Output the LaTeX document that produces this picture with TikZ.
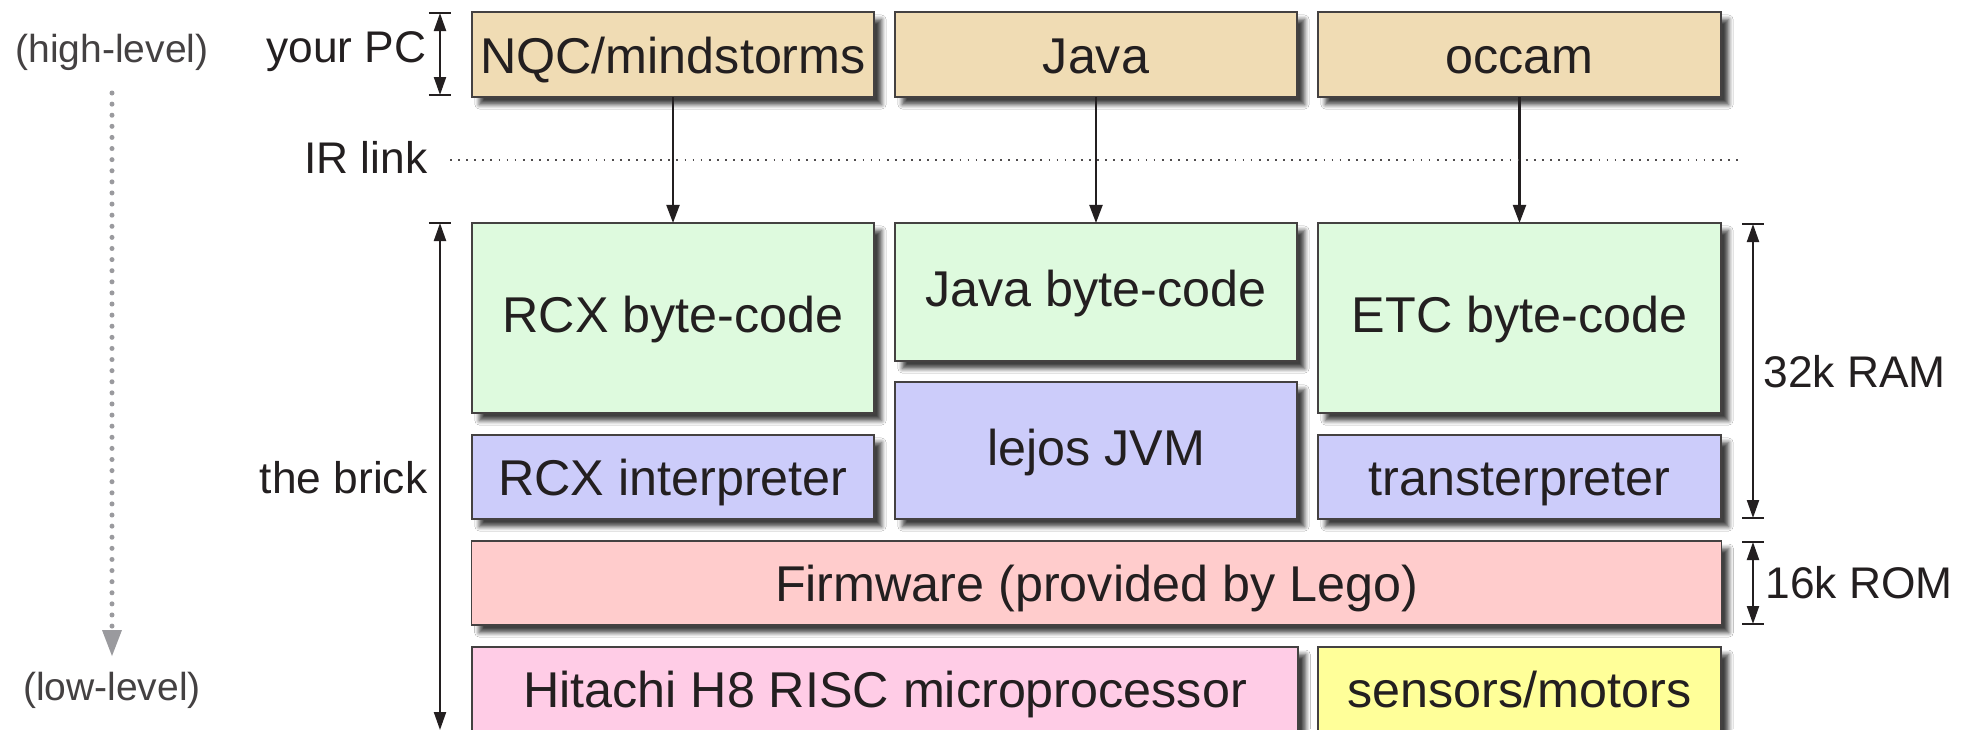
\documentclass[tikz,border=0pt]{standalone}
\usepackage{fontspec}
\setmainfont{Liberation Sans}
\usetikzlibrary{arrows.meta,shadows,shadows.blur}
\definecolor{ink}{HTML}{231F20}
\definecolor{tanbox}{HTML}{F0DCB4}
\definecolor{greenbox}{HTML}{DEFADE}
\definecolor{bluebox}{HTML}{CCCCFA}
\definecolor{redbox}{HTML}{FFCCCC}
\definecolor{pinkbox}{HTML}{FFCCE6}
\definecolor{yellowbox}{HTML}{FFFF99}
\definecolor{levelgray}{HTML}{9A9A9E}
\tikzset{
  layer/.style={draw=ink!85, line width=0.45pt, inner sep=0pt, outer sep=0pt,
    text=ink, font=\fontsize{14.3}{17}\selectfont, text height=0.37cm, text depth=0cm,
    blur shadow={shadow xshift=0.075cm, shadow yshift=-0.075cm, shadow blur radius=0.045cm,
      shadow opacity=75, shadow blur steps=6}},
  tall/.style={text depth=0.075cm},
  lab/.style={text=ink, font=\fontsize{12.6}{15}\selectfont, inner sep=0pt},
  lvl/.style={text=ink!85, font=\fontsize{11.1}{13}\selectfont, inner sep=0pt},
  flow/.style={draw=ink, line width=0.6pt, -{Triangle[length=0.18cm,width=0.13cm]}},
  dimline/.style={draw=ink, line width=0.6pt, {Triangle[length=0.18cm,width=0.12cm]}-{Triangle[length=0.18cm,width=0.12cm]}},
  dimbar/.style={draw=ink, line width=0.6pt},
}
\begin{document}
\begin{tikzpicture}[x=0.01cm,y=-0.01cm]
\useasboundingbox (0,0) rectangle (1968,729);
\clip (0,0) rectangle (1968,729);
\fill[white] (0,0) rectangle (1968,729);

% top row
\node[layer, fill=tanbox, minimum width=4.02cm, minimum height=0.85cm] (nqc) at (673,54.5) {NQC/mindstorms};
\node[layer, fill=tanbox, minimum width=4.02cm, minimum height=0.85cm] (java) at (1096,54.5) {Java};
\node[layer, fill=tanbox, minimum width=4.03cm, minimum height=0.85cm] (occam) at (1519.5,54.5) {occam};

% byte-code row
\node[layer, tall, fill=greenbox, minimum width=4.02cm, minimum height=1.90cm] (rcxbc) at (673,318) {RCX byte-code};
\node[layer, tall, fill=greenbox, minimum width=4.02cm, minimum height=1.38cm] (javabc) at (1096,292) {Java byte-code};
\node[layer, tall, fill=greenbox, minimum width=4.03cm, minimum height=1.90cm] (etcbc) at (1519.5,318) {ETC byte-code};

% interpreters
\node[layer, fill=bluebox, minimum width=4.02cm, minimum height=0.84cm] (rcxint) at (673,477) {RCX interpreter};
\node[layer, tall, fill=bluebox, minimum width=4.02cm, minimum height=1.37cm] (lejos) at (1096,450.5) {lejos JVM};
\node[layer, fill=bluebox, minimum width=4.03cm, minimum height=0.84cm] (trans) at (1519.5,477) {transterpreter};

% firmware and hardware
\node[layer, fill=redbox, minimum width=12.49cm, minimum height=0.84cm] (firm) at (1096.5,583) {Firmware (provided by Lego)};
\node[layer, fill=pinkbox, minimum width=8.26cm, minimum height=0.84cm] (hitachi) at (885,689) {Hitachi H8 RISC microprocessor};
\node[layer, fill=yellowbox, minimum width=4.03cm, minimum height=0.84cm] (sensors) at (1519.5,689) {sensors/motors};

% downloads
\draw[flow] (nqc.south) -- (rcxbc.north);
\draw[flow] (java.south) -- (javabc.north);
\draw[flow] (occam.south) -- (etcbc.north);

% IR link line
\coordinate (irA) at (450,160);
\coordinate (irB) at (1741,160);
\draw[draw=ink!80, line width=0.35pt, dash pattern=on 0.5pt off 1.8pt] (irA) -- (irB);

% left labels
\node[lab, anchor=base east] (pc) at (427,62) {your PC};
\node[lab, anchor=base east] (ir) at (428,173) {IR link};
\node[lab, anchor=base east] (brick) at (428,493) {the brick};
\node[lvl, anchor=base] (high) at (112,62) {(high-level)};
\node[lvl, anchor=base] (low) at (112,700) {(low-level)};

% level arrow
\coordinate (lvA) at (112,93);
\coordinate (lvB) at (112,628);
\coordinate (lvT) at (112,656);
\draw[levelgray, line width=0.05cm, line cap=round, dash pattern=on 0pt off 0.111cm] (lvA) -- (lvB);
\fill[levelgray] (102,630) -- (122,630) -- (lvT) -- cycle;

% your PC dimension
\coordinate (pcT) at (440,13);
\coordinate (pcB) at (440,95);
\draw[dimline] (pcT) -- (pcB);
\draw[dimbar] ([xshift=-0.11cm]pcT) -- ([xshift=0.11cm]pcT);
\draw[dimbar] ([xshift=-0.11cm]pcB) -- ([xshift=0.11cm]pcB);

% the brick dimension
\coordinate (brT) at (440,223);
\coordinate (brB) at (440,730);
\draw[dimline] (brT) -- (brB);
\draw[dimbar] ([xshift=-0.11cm]brT) -- ([xshift=0.11cm]brT);

% RAM dimension
\coordinate (ramT) at (1753,224);
\coordinate (ramB) at (1753,518);
\draw[dimline] (ramT) -- (ramB);
\draw[dimbar] ([xshift=-0.11cm]ramT) -- ([xshift=0.11cm]ramT);
\draw[dimbar] ([xshift=-0.11cm]ramB) -- ([xshift=0.11cm]ramB);
\node[lab, anchor=base west] (ram) at (1763,387) {32k RAM};

% ROM dimension
\coordinate (romT) at (1753,542);
\coordinate (romB) at (1753,624);
\draw[dimline] (romT) -- (romB);
\draw[dimbar] ([xshift=-0.11cm]romT) -- ([xshift=0.11cm]romT);
\draw[dimbar] ([xshift=-0.11cm]romB) -- ([xshift=0.11cm]romB);
\node[lab, anchor=base west] (rom) at (1765,598) {16k ROM};
\end{tikzpicture}
\end{document}
